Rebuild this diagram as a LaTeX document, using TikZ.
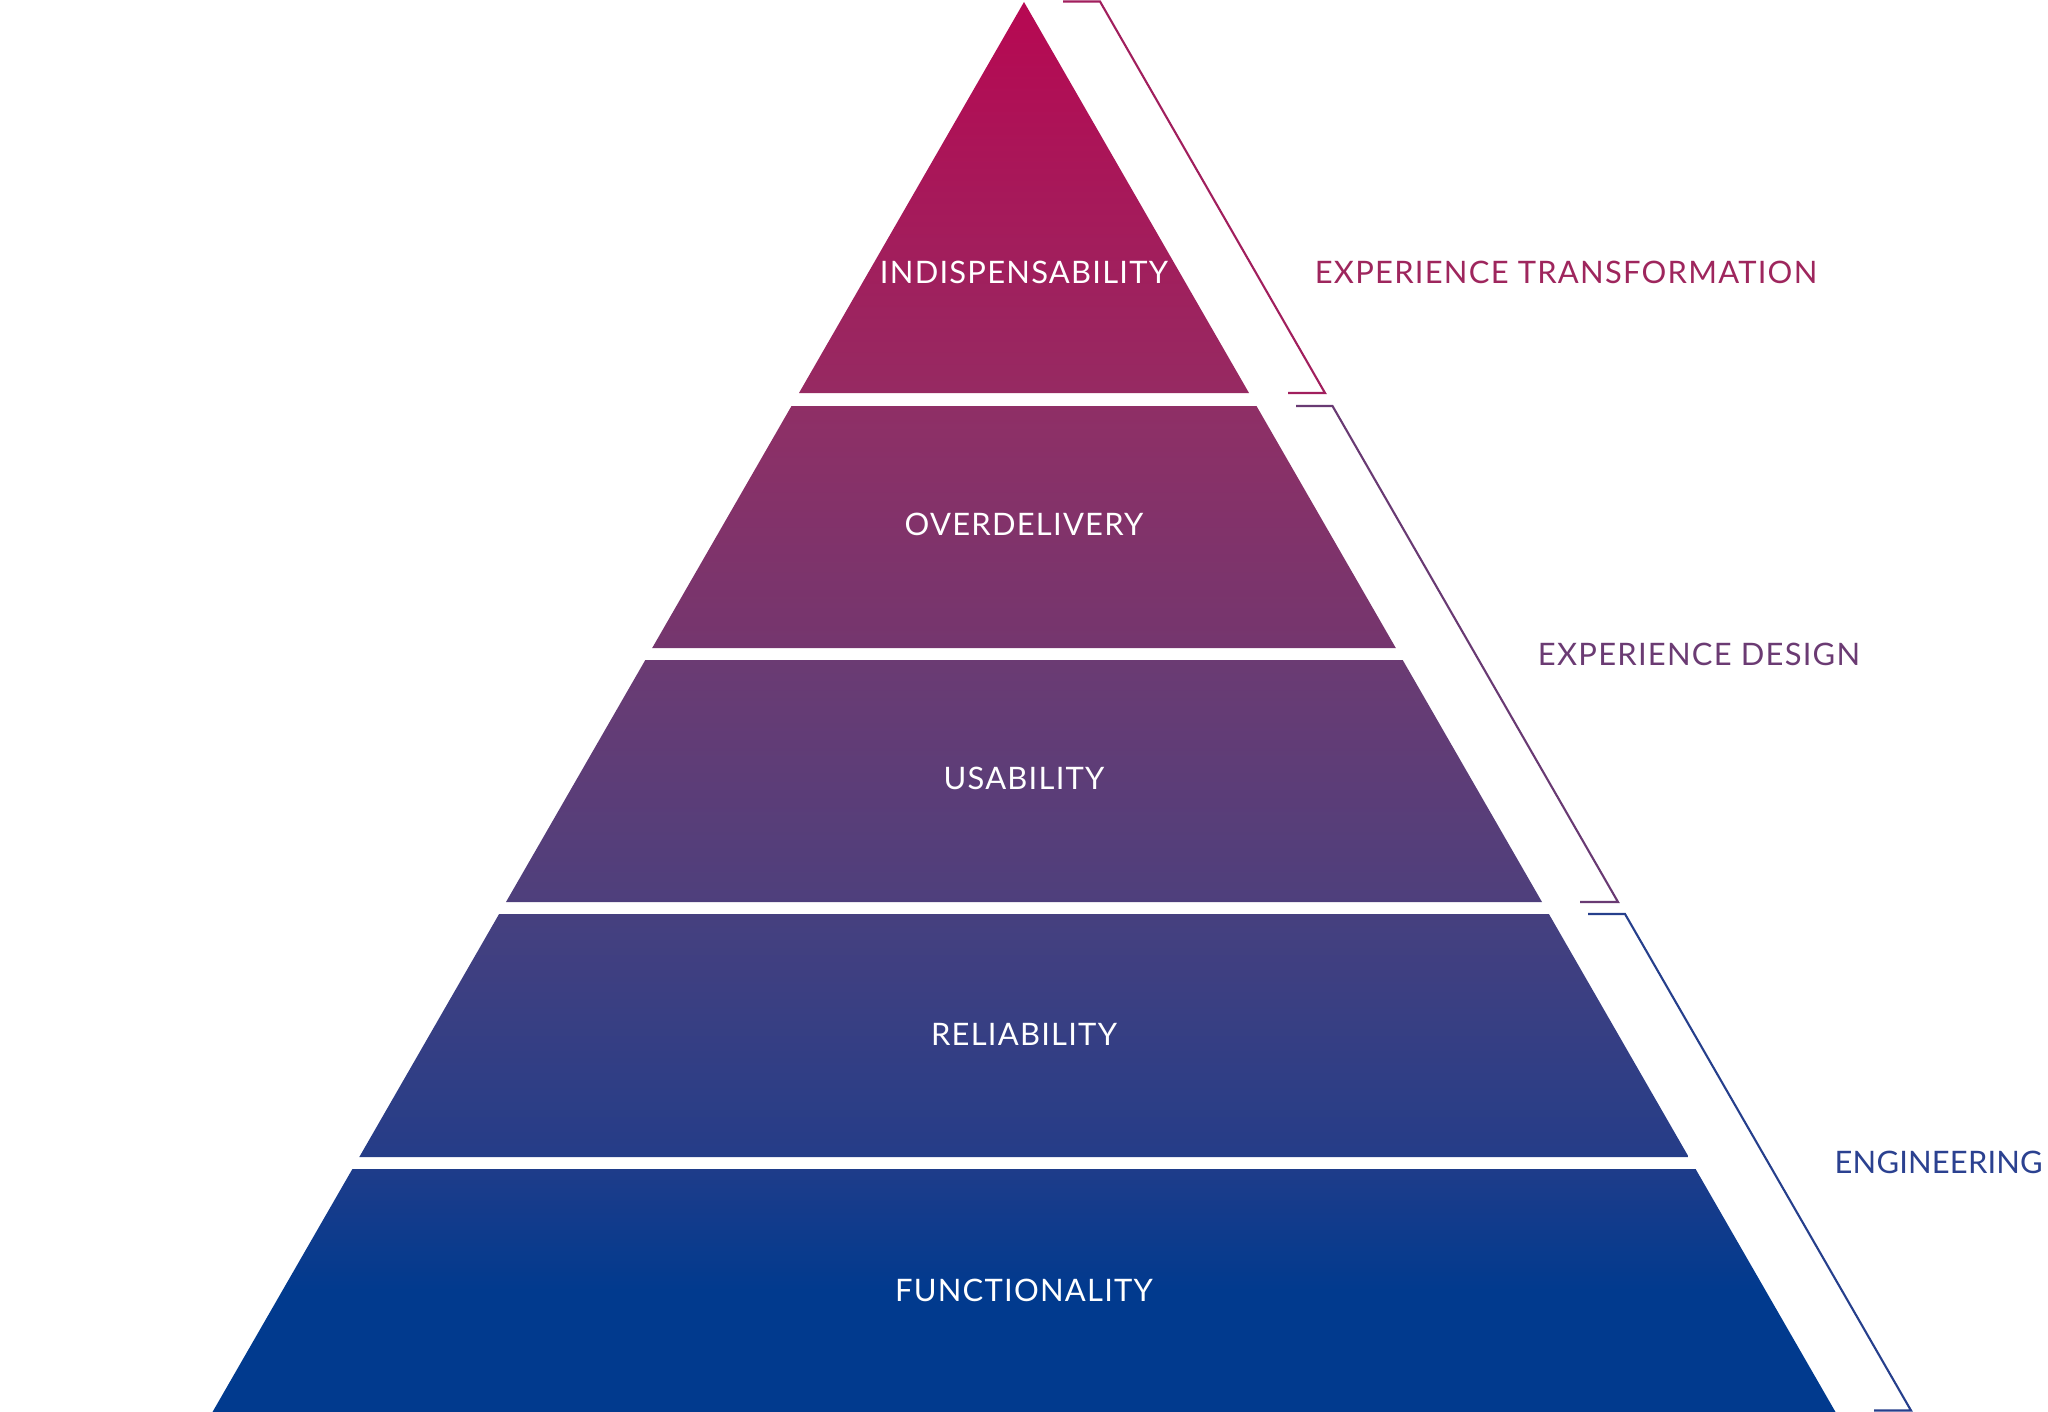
\documentclass[tikz,border=0pt]{standalone}
\usepackage{fontspec}
\setmainfont{Lato}[LetterSpace=4.0]
\definecolor{tAtop}{HTML}{B70852}
\definecolor{tAbot}{HTML}{962A62}
\definecolor{tBtop}{HTML}{8F2F66}
\definecolor{tBbot}{HTML}{74366E}
\definecolor{tCtop}{HTML}{6B3B73}
\definecolor{tCbot}{HTML}{4E3F7C}
\definecolor{tDtop}{HTML}{46407F}
\definecolor{tDbot}{HTML}{253D88}
\definecolor{tEtop}{HTML}{1E3C8A}
\definecolor{tEbot}{HTML}{013A8E}
\definecolor{brA}{HTML}{A11F5D}
\definecolor{brB}{HTML}{693A73}
\definecolor{brC}{HTML}{263F8C}
\definecolor{lbA}{HTML}{9E265D}
\definecolor{lbB}{HTML}{6B3B73}
\definecolor{lbC}{HTML}{2B4190}
\begin{document}
\begin{tikzpicture}[x=0.01cm,y=-0.01cm,
  tierlabel/.style={text=white,font=\fontsize{8.8}{10}\selectfont,inner sep=0pt},
  sidelabel/.style={font=\fontsize{8.8}{10}\selectfont,inner sep=0pt},
  bracket/.style={line width=0.6pt,line join=miter}]
\useasboundingbox (0,0) rectangle (2048,1412);
% tiers
\shade[top color=tAtop,bottom color=tAbot] (1024,2) -- (1249.0,393) -- (799.0,393) -- cycle;
\shade[top color=tBtop,bottom color=tBbot] (791.5,406) -- (1256.5,406) -- (1395.8,648) -- (652.2,648) -- cycle;
\shade[top color=tCtop,bottom color=tCbot] (645.3,660) -- (1402.7,660) -- (1542.0,902) -- (506.0,902) -- cycle;
\shade[top color=tDtop,bottom color=tDbot] (499.1,914) -- (1548.9,914) -- (1688.7,1157) -- (359.3,1157) -- cycle;
\shade[top color=tEtop,bottom color=tEbot,middle color=tEbot] (352.4,1169) -- (1695.6,1169) -- (1835.5,1412) -- (212.5,1412) -- cycle;
% tier labels
\node[tierlabel] (indis) at (1024,272) {INDISPENSABILITY};
\node[tierlabel] (over) at (1024,524) {OVERDELIVERY};
\node[tierlabel] (usab) at (1024,778) {USABILITY};
\node[tierlabel] (reli) at (1024,1034) {RELIABILITY};
\node[tierlabel] (func) at (1024,1290) {FUNCTIONALITY};
% brackets
\coordinate (a1) at (1063,1.5);
\coordinate (a2) at (1100,1.5);
\coordinate (a3) at (1325,393);
\coordinate (a4) at (1288,393);
\coordinate (b1) at (1296,406);
\coordinate (b2) at (1332.5,406);
\coordinate (b3) at (1618,902);
\coordinate (b4) at (1580,902);
\coordinate (c1) at (1588,914);
\coordinate (c2) at (1625,914);
\coordinate (c3) at (1911,1410.5);
\coordinate (c4) at (1874,1410.5);
\draw[bracket,brA] (a1) -- (a2) -- (a3) -- (a4);
\draw[bracket,brB] (b1) -- (b2) -- (b3) -- (b4);
\draw[bracket,brC] (c1) -- (c2) -- (c3) -- (c4);
% side labels
\node[sidelabel,text=lbA] (et) at (1566,272) {EXPERIENCE TRANSFORMATION};
\node[sidelabel,text=lbB] (ed) at (1699,654) {EXPERIENCE DESIGN};
\node[sidelabel,text=lbC,anchor=west] (eng) at (1834,1162) {\addfontfeatures{LetterSpace=0.5}ENGINEERING};
\end{tikzpicture}
\end{document}
